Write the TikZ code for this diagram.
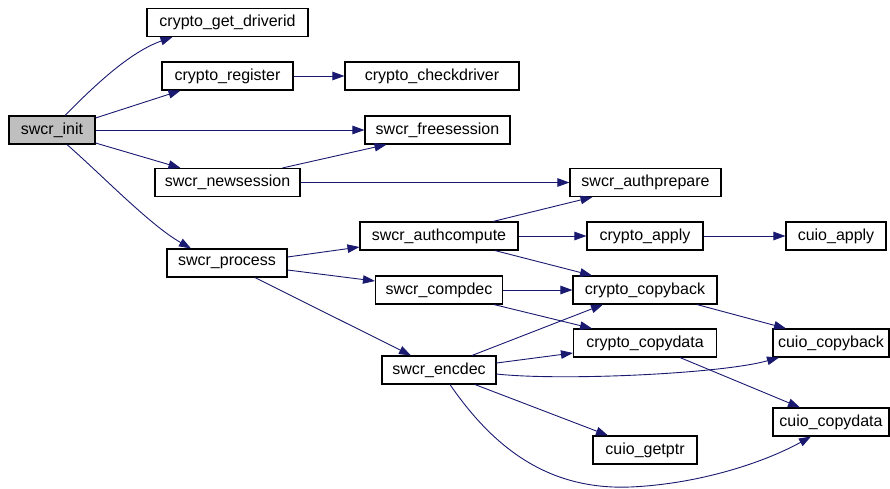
\documentclass[tikz,border=0pt]{standalone}
\usepackage{fontspec}
\setmainfont{Liberation Sans}
\usetikzlibrary{calc,arrows.meta}
\definecolor{edgeblue}{HTML}{191970}
\definecolor{rootfill}{HTML}{BFBFBF}
\tikzset{
  fn/.style={draw=black, line width=1.1pt, fill=white, minimum height=28pt,
             inner sep=0pt, font=\fontsize{16}{18}\selectfont},
  call/.style={draw=edgeblue, line width=0.9pt,
               -{Triangle[length=12pt,width=8.5pt]}},
}
\begin{document}
\begin{tikzpicture}[x=1pt, y=-1pt]
\useasboundingbox (0,0) rectangle (890,488);

% functions
\node[fn, fill=rootfill, minimum width=86pt]  (init)  at (52,130)    {swcr\_init};
\node[fn, minimum width=161pt] (gd)    at (227.5,22.5) {crypto\_get\_driverid};
\node[fn, minimum width=131pt] (reg)   at (227.5,76)   {crypto\_register};
\node[fn, minimum width=174pt] (chk)   at (432,76)     {crypto\_checkdriver};
\node[fn, minimum width=145pt] (fs)    at (437.5,130)  {swcr\_freesession};
\node[fn, minimum width=145pt] (ns)    at (227.5,182.5){swcr\_newsession};
\node[fn, minimum width=151pt] (ap)    at (645.5,182.5){swcr\_authprepare};
\node[fn, minimum width=120pt] (proc)  at (227,263)    {swcr\_process};
\node[fn, minimum width=158pt] (ac)    at (439,236)    {swcr\_authcompute};
\node[fn, minimum width=116pt] (capp)  at (645,236)    {crypto\_apply};
\node[fn, minimum width=100pt] (uapp)  at (836,236)    {cuio\_apply};
\node[fn, minimum width=127pt] (cd)    at (439,290)    {swcr\_compdec};
\node[fn, minimum width=144pt] (cb)    at (645,290)    {crypto\_copyback};
\node[fn, minimum width=143pt] (cdat)  at (645,343)    {crypto\_copydata};
\node[fn, minimum width=116pt] (ucb)   at (831,343)    {cuio\_copyback};
\node[fn, minimum width=114pt] (ed)    at (439,370)    {swcr\_encdec};
\node[fn, minimum width=104pt] (gp)    at (645,450)    {cuio\_getptr};
\node[fn, minimum width=116pt] (ucd)   at (831,422)    {cuio\_copydata};

% calls from swcr_init
\draw[call] ($(init.north)+(13,0)$) .. controls (95,85) and (130,52) .. ($(gd.south)+(-55,0)$);
\draw[call] ($(init.east)+(0,-12)$) -- ($(reg.south)+(-47,0)$);
\draw[call] (init.east) -- (fs.west);
\draw[call] ($(init.east)+(0,13)$) -- ($(ns.north)+(-47,0)$);
\draw[call] ($(init.south)+(15,0)$) .. controls (105,178) and (150,225) .. ($(proc.north)+(-36,0)$);

% second level
\draw[call] (reg.east) -- (chk.west);
\draw[call] ($(ns.north)+(55,0)$) -- ($(fs.south)+(-51,0)$);
\draw[call] (ns.east) -- (ap.west);
\draw[call] ($(proc.east)+(0,-6)$) -- ($(ac.west)+(0,11)$);
\draw[call] ($(proc.east)+(0,7)$) -- ($(cd.west)+(0,-9)$);
\draw[call] ($(proc.south)+(28,0)$) -- ($(ed.north)+(-28,0)$);

% swcr_authcompute
\draw[call] ($(ac.north)+(54,0)$) -- ($(ap.south)+(-53,0)$);
\draw[call] (ac.east) -- (capp.west);
\draw[call] ($(ac.south)+(56,0)$) -- ($(cb.north)+(-53,0)$);
\draw[call] (capp.east) -- (uapp.west);

% swcr_compdec
\draw[call] (cd.east) -- (cb.west);
\draw[call] ($(cd.south)+(55,0)$) -- ($(cdat.north)+(-53,0)$);

% copy helpers
\draw[call] ($(cb.south)+(52,0)$) -- ($(ucb.north)+(-45,0)$);
\draw[call] ($(cdat.south)+(35,0)$) -- ($(ucd.north)+(-31,0)$);

% swcr_encdec
\draw[call] ($(ed.north)+(33,0)$) -- ($(cb.south)+(-42,0)$);
\draw[call] ($(ed.east)+(0,-7)$) -- ($(cdat.west)+(0,10)$);
\draw[call] ($(ed.east)+(0,4)$) .. controls (560,381) and (720,374) .. ($(ucb.south)+(-52,0)$);
\draw[call] ($(ed.south)+(36,0)$) -- ($(gp.north)+(-37,0)$);
\draw[call] ($(ed.south)+(11,0)$) .. controls (495,450) and (550,490) .. (630,487)
            .. controls (700,484) and (765,462) .. ($(ucd.south)+(-20,0)$);
\end{tikzpicture}
\end{document}
